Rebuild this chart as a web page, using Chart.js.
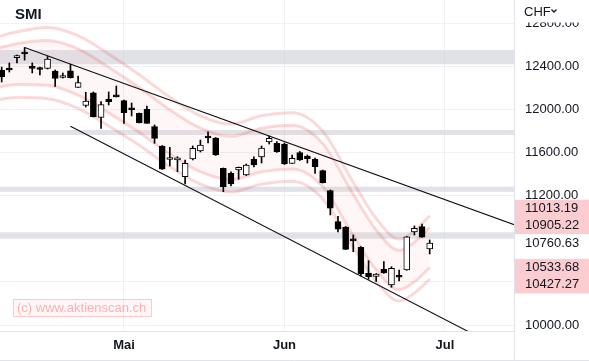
<!DOCTYPE html>
<html><head><meta charset="utf-8">
<script src="https://cdn.jsdelivr.net/npm/chart.js@4.4.1/dist/chart.umd.min.js"></script>
<style>html,body{margin:0;padding:0;background:#fff;}#wrap{width:589px;height:361px;}</style>
</head><body>
<div id="wrap"><canvas id="c" width="589" height="361"></canvas></div>
<script>
// ---- data ----
const barIdx = [-16,-15,-14,-13,-12,-11,-10,-9,-8,-7,-6,-5,-4,-3,-2,-1,0,1,2,3,4,5,6,7,8,9,10,11,12,13,14,15,16,17,18,19,20,21,22,23,24,25,26,27,28,29,30,31,32,33,34,35,36,37,38,39,40];
const opens  = [12366,12384,12480,12533,12398,12380,12380,12356,12296,12359,12205,12036,12155,11925,12097,12125,12081,12004,11964,12001,11840,11661,11535,11531,11376,11540,11614,11740,11735,11454,11407,11438,11392,11537,11559,11698,11686,11679,11500,11599,11568,11537,11432,11246,10959,10909,10789,10721,10480,10450,10517,10371,10448,10510,10863,10912,10705];
const highs  = [12393,12431,12505,12574,12431,12393,12491,12366,12338,12419,12310,12159,12162,12073,12162,12217,12087,12060,11967,12032,11856,11665,11649,11561,11531,11661,11716,11791,11740,11457,11420,11466,11494,11561,11661,11753,11701,11689,11577,11610,11577,11549,11438,11253,11009,10914,10835,10727,10597,10478,10588,10541,10510,10821,10919,10937,10789];
const lows   = [12254,12347,12431,12458,12338,12319,12375,12213,12291,12291,12203,12022,11930,11823,12041,12115,11871,11939,11874,11869,11686,11443,11475,11422,11308,11531,11605,11689,11573,11237,11290,11352,11387,11466,11503,11679,11602,11489,11498,11526,11503,11407,11317,11021,10863,10700,10680,10455,10424,10404,10478,10350,10408,10508,10835,10812,10659];
const closes = [12301,12366,12498,12514,12380,12370,12468,12287,12315,12294,12248,12078,11932,12046,12073,12117,11970,11997,11877,11871,11732,11445,11543,11552,11500,11639,11670,11735,11577,11283,11308,11463,11484,11484,11642,11732,11608,11494,11547,11531,11543,11469,11320,11083,10888,10702,10781,10473,10448,10473,10483,10526,10443,10819,10897,10814,10760.63];

const envIdx     = [-18,-14,-10,-6,-2,2,6,10,14,18,22,26,30,33,36,38,40];
const upperOuter = [12640,12720,12760,12684,12513,12322,12113,11941,11864,11941,11969,11798,11322,10988,10797,10874,11013.19];
const upperInner = [12540,12610,12640,12562,12392,12204,11996,11826,11750,11826,11854,11684,11213,10882,10693,10769,10905.22];
const lowerInner = [12180,12230,12225,12132,11968,11786,11586,11422,11348,11422,11448,11284,10829,10510,10327,10401,10533.68];
const lowerOuter = [12070,12110,12100,12010,11847,11668,11469,11307,11234,11307,11333,11170,10720,10404,10223,10296,10427.27];

const trendUpperIdx = [-13, 55];
const trendUpperVal = [12574, 10829];
const trendLowerIdx = [-7, 47];
const trendLowerVal = [11843, 9868];

const zones = [[12419,12551],[11763,11809],[11236,11283],[10804,10860]];

const tickIdx = [0, 21, 42];
const tickLabels = ['Mai', 'Jun', 'Jul'];
const yTicks = [10000,10400,10800,11200,11600,12000,12400,12800];
const priceLabels = [11013.19, 10905.22, 10760.63, 10533.68, 10427.27];
const lastPriceIdx = 2;

// ---- chart ----
const FAM = "'Liberation Sans', Arial, sans-serif";
Chart.defaults.font.family = FAM;

const bodies = barIdx.map((x, k) => ({x, y: [opens[k], closes[k]]}));
const wicks = barIdx.map((x, k) => ({x, y: [lows[k], highs[k]]}));
const bodyColors = barIdx.map((x, k) => closes[k] >= opens[k] ? '#ffffff' : '#000000');
const pts = (xs, ys) => xs.map((x, k) => ({x, y: ys[k]}));

const envStyle = {type: 'line', borderColor: 'rgba(239,83,80,0.22)', borderWidth: 3, pointRadius: 0, cubicInterpolationMode: 'monotone', order: 5};

const overlay = {
  id: 'overlay',
  beforeDatasetsDraw(chart) {
    const {ctx, chartArea: a, scales: {y}} = chart;
    ctx.save();
    ctx.fillStyle = 'rgba(200,202,212,0.55)';
    zones.forEach(([lo, hi]) => {
      const y1 = y.getPixelForValue(hi), y2 = y.getPixelForValue(lo);
      ctx.fillRect(a.left, y1, a.right - a.left, y2 - y1);
    });
    ctx.restore();
  },
  afterDraw(chart) {
    const {ctx, chartArea: a, scales: {y}, width, height} = chart;
    ctx.save();
    ctx.strokeStyle = '#e0e3eb';
    ctx.lineWidth = 1;
    ctx.beginPath();
    ctx.moveTo(a.right + 0.5, 0); ctx.lineTo(a.right + 0.5, height);
    ctx.moveTo(0, a.bottom + 0.5); ctx.lineTo(a.right, a.bottom + 0.5);
    ctx.moveTo(0, height - 0.5); ctx.lineTo(width, height - 0.5);
    ctx.stroke();
    ctx.fillStyle = '#ffffff';
    ctx.fillRect(a.right + 1, 0, width - a.right - 1, 22.5);
    ctx.fillStyle = '#131722';
    ctx.font = '13px ' + FAM;
    ctx.textBaseline = 'middle';
    ctx.textAlign = 'left';
    ctx.fillText('CHF', 524, 12);
    ctx.strokeStyle = '#131722';
    ctx.lineWidth = 1.3;
    ctx.beginPath();
    ctx.moveTo(551.5, 9.5); ctx.lineTo(554, 12); ctx.lineTo(556.5, 9.5);
    ctx.stroke();
    const gap = 17.3;
    const py = priceLabels.map(v => y.getPixelForValue(v));
    for (let k = lastPriceIdx - 1; k >= 0; k--) py[k] = Math.min(py[k], py[k + 1] - gap);
    for (let k = lastPriceIdx + 1; k < py.length; k++) py[k] = Math.max(py[k], py[k - 1] + gap);
    priceLabels.forEach((v, k) => {
      ctx.fillStyle = k === lastPriceIdx ? '#ffffff' : 'rgba(242,54,69,0.25)';
      ctx.fillRect(a.right + 1, py[k] - gap / 2, width - a.right - 1, gap);
    });
    ctx.fillStyle = '#131722';
    priceLabels.forEach((v, k) => ctx.fillText(v.toFixed(2), 525, py[k]));
    ctx.font = 'bold 15px ' + FAM;
    ctx.fillText('SMI', 15, 15);
    ctx.fillStyle = 'rgba(255,0,0,0.03)';
    ctx.fillRect(13.5, 299.5, 138, 17);
    ctx.strokeStyle = 'rgba(255,0,0,0.2)';
    ctx.lineWidth = 1;
    ctx.strokeRect(13.5, 299.5, 138, 17);
    ctx.fillStyle = 'rgba(255,0,0,0.3)';
    ctx.font = '13px ' + FAM;
    ctx.fillText('(c) www.aktienscan.ch', 17, 308.5);
    ctx.restore();
  }
};

new Chart(document.getElementById('c'), {
  type: 'bar',
  data: {
    datasets: [
      {type: 'bar', data: bodies, backgroundColor: bodyColors, borderColor: '#000', borderWidth: 1, borderSkipped: false, barThickness: 6, minBarLength: 2, grouped: false, order: 0},
      {type: 'bar', data: wicks, backgroundColor: '#000', borderWidth: 0, barThickness: 1, grouped: false, order: 1},
      {type: 'line', data: pts(trendUpperIdx, trendUpperVal), borderColor: '#111', borderWidth: 1.1, pointRadius: 0, order: 2},
      {type: 'line', data: pts(trendLowerIdx, trendLowerVal), borderColor: '#111', borderWidth: 1.1, pointRadius: 0, order: 2},
      Object.assign({}, envStyle, {data: pts(envIdx, upperOuter)}),
      Object.assign({}, envStyle, {data: pts(envIdx, upperInner), fill: '+1', backgroundColor: 'rgba(255,90,90,0.05)'}),
      Object.assign({}, envStyle, {data: pts(envIdx, lowerInner)}),
      Object.assign({}, envStyle, {data: pts(envIdx, lowerOuter)})
    ]
  },
  options: {
    responsive: false,
    devicePixelRatio: 1,
    animation: false,
    layout: {padding: 0},
    plugins: {legend: {display: false}, tooltip: {enabled: false}, title: {display: false}},
    scales: {
      x: {
        type: 'linear', min: -16.22, max: 51.03, offset: false,
        grid: {color: '#f0f1f4', offset: false, drawTicks: false},
        border: {display: false},
        afterBuildTicks: s => { s.ticks = tickIdx.map(v => ({value: v})); },
        ticks: {callback: (v, i) => tickLabels[i], font: {size: 13, weight: 'bold'}, color: '#131722', padding: 7, maxRotation: 0, autoSkip: false},
        afterFit: s => { s.height = 30; s.paddingLeft = 0; s.paddingRight = 0; }
      },
      y: {
        type: 'linear', position: 'right', min: 9944.5, max: 13015,
        grid: {color: '#f0f1f4', drawTicks: false},
        border: {display: false},
        afterBuildTicks: s => { s.ticks = yTicks.map(v => ({value: v})); },
        ticks: {
          callback: v => priceLabels.some(p => Math.abs(p - v) < 95) ? '' : Number(v).toFixed(2),
          font: {size: 13}, color: '#131722', padding: 11
        },
        afterFit: s => { s.width = 75; s.paddingTop = 0; s.paddingBottom = 0; }
      }
    }
  },
  plugins: [overlay]
});
</script>
</body></html>
